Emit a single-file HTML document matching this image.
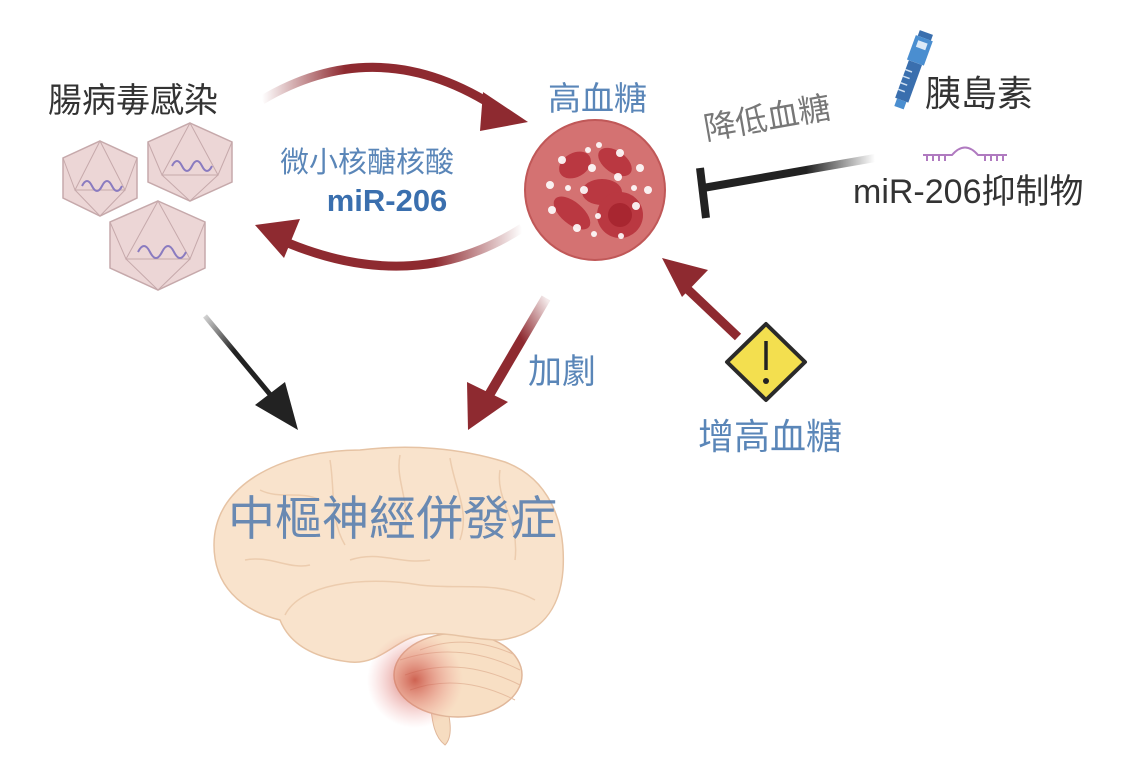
<!DOCTYPE html>
<html><head><meta charset="utf-8"><style>
html,body{margin:0;padding:0;background:#fff}
svg{display:block}
text{font-family:"Liberation Sans","Noto Sans CJK TC",sans-serif}
</style></head><body>
<svg width="1140" height="760" viewBox="0 0 1140 760" xmlns="http://www.w3.org/2000/svg">
<defs>
<linearGradient id="gt" x1="0" y1="0" x2="1" y2="0"><stop offset="0" stop-color="#8e2a30" stop-opacity="0"/><stop offset="0.35" stop-color="#8e2a30"/><stop offset="1" stop-color="#8e2a30"/></linearGradient>
<linearGradient id="gb" x1="1" y1="0" x2="0" y2="0"><stop offset="0" stop-color="#8e2a30" stop-opacity="0"/><stop offset="0.35" stop-color="#8e2a30"/><stop offset="1" stop-color="#8e2a30"/></linearGradient>
<linearGradient id="gblk" x1="0" y1="0" x2="1" y2="1"><stop offset="0" stop-color="#222" stop-opacity="0.2"/><stop offset="0.4" stop-color="#222"/></linearGradient>
<linearGradient id="gr1" x1="1" y1="0" x2="0" y2="1"><stop offset="0" stop-color="#8e2a30" stop-opacity="0.1"/><stop offset="0.4" stop-color="#8e2a30"/></linearGradient>
<linearGradient id="ginh" x1="1" y1="0" x2="0" y2="0"><stop offset="0" stop-color="#222" stop-opacity="0"/><stop offset="0.4" stop-color="#222"/></linearGradient>
<radialGradient id="glow" cx="0.5" cy="0.5" r="0.5"><stop offset="0" stop-color="#c0392b" stop-opacity="0.75"/><stop offset="1" stop-color="#e88" stop-opacity="0"/></radialGradient>
</defs>

<text x="48" y="112" font-size="34" fill="#333">腸病毒感染</text>
<g fill="#ecd6d6" stroke="#c6a9ab" stroke-width="1.5">
<polygon points="100,141 137,158 137,198 100,216 63,198 63,158"/>
<polygon points="190,123 232,142 232,182 190,201 148,182 148,142"/>
<polygon points="158,201 205,222 205,268 158,290 110,268 110,222"/>
</g>
<g fill="none" stroke="#c6a9ab" stroke-width="1">
<path d="M100,141 L75,190 L125,190 Z M63,158 L75,190 M137,158 L125,190 M75,190 L100,216 L125,190"/>
<path d="M190,123 L162,175 L218,175 Z M148,142 L162,175 M232,142 L218,175 M162,175 L190,201 L218,175"/>
<path d="M158,201 L126,259 L190,259 Z M110,222 L126,259 M205,222 L190,259 M126,259 L158,290 L190,259"/>
</g>
<g fill="none" stroke-width="2">
<path d="M82,186 q5,-10 10,0 t10,0 t10,0 t10,0" stroke="#8a7bc0"/>
<path d="M172,166 q5,-10 10,0 t10,0 t10,0 t10,0" stroke="#8a7bc0"/>
<path d="M138,252 q6,-12 12,0 t12,0 t12,0 t12,0" stroke="#8a7bc0"/>
</g>

<path d="M262,100 Q380,30 500,110" fill="none" stroke="url(#gt)" stroke-width="9"/>
<polygon points="483,92 528,122 480,131" fill="#8e2a30"/>
<path d="M522,228 Q410,300 272,236" fill="none" stroke="url(#gb)" stroke-width="9"/>
<polygon points="255,225 300,219 284,258" fill="#8e2a30"/>
<text x="367" y="172" font-size="29" fill="#5a86b8" text-anchor="middle">微小核醣核酸</text>
<text x="387" y="211" font-size="31" fill="#3a6fae" font-weight="bold" text-anchor="middle">miR-206</text>

<text x="548" y="110" font-size="33" fill="#5a86b8">高血糖</text>
<circle cx="595" cy="190" r="70" fill="#d47272" stroke="#c05858" stroke-width="2"/>
<g fill="#b8323c" opacity="0.9">
<ellipse cx="575" cy="165" rx="17" ry="12" transform="rotate(-30 575 165)"/>
<ellipse cx="615" cy="162" rx="19" ry="11" transform="rotate(35 615 162)"/>
<ellipse cx="602" cy="192" rx="20" ry="13"/>
<ellipse cx="572" cy="213" rx="22" ry="11" transform="rotate(40 572 213)"/>
<circle cx="620" cy="215" r="23"/>
</g>
<circle cx="620" cy="215" r="12" fill="#a82630"/>
<g fill="#fff" opacity="0.9">
<circle cx="562" cy="160" r="4"/><circle cx="588" cy="150" r="3"/><circle cx="599" cy="145" r="3"/><circle cx="620" cy="153" r="4"/><circle cx="640" cy="168" r="4"/><circle cx="592" cy="168" r="4"/><circle cx="618" cy="177" r="4"/><circle cx="550" cy="185" r="4"/><circle cx="568" cy="188" r="3"/><circle cx="584" cy="190" r="4"/><circle cx="634" cy="188" r="3"/><circle cx="648" cy="190" r="4"/><circle cx="552" cy="210" r="4"/><circle cx="598" cy="216" r="3"/><circle cx="636" cy="206" r="4"/><circle cx="577" cy="228" r="4"/><circle cx="594" cy="234" r="3"/><circle cx="621" cy="236" r="3"/>
</g>

<text x="706" y="140" font-size="32" fill="#777" transform="rotate(-10 706 140)">降低血糖</text>
<path d="M875,158 L703,188" fill="none" stroke="url(#ginh)" stroke-width="8"/>
<line x1="700" y1="168" x2="706" y2="218" stroke="#222" stroke-width="8"/>

<g transform="rotate(20 912 72)">
<rect x="905" y="30" width="14" height="6" fill="#3a6fae"/>
<rect x="903" y="36" width="18" height="26" fill="#4a8ed0"/>
<rect x="907" y="40" width="10" height="7" fill="#dceaf8"/>
<rect x="905" y="62" width="14" height="40" fill="#3a6fae"/>
<g stroke="#cfe0f2" stroke-width="1.5"><line x1="905" y1="72" x2="912" y2="72"/><line x1="905" y1="79" x2="912" y2="79"/><line x1="905" y1="86" x2="912" y2="86"/><line x1="905" y1="93" x2="912" y2="93"/></g>
<rect x="907" y="102" width="10" height="8" fill="#4a8ed0"/>
</g>
<text x="925" y="106" font-size="36" fill="#333">胰島素</text>
<g stroke="#b07ac0" stroke-width="2" fill="none">
<path d="M923,155 L952,155 Q965,140 978,155 L1007,155"/>
<path d="M927,155 v6 M933,155 v6 M939,155 v6 M945,155 v6 M985,155 v6 M991,155 v6 M997,155 v6 M1003,155 v6"/>
</g>
<text x="853" y="203" font-size="34" fill="#333">miR-206抑制物</text>

<path d="M205,316 L278,404" stroke="url(#gblk)" stroke-width="5" fill="none"/>
<polygon points="298,430 255,405 285,382" fill="#222"/>
<path d="M546,298 L485,402" stroke="url(#gr1)" stroke-width="10" fill="none"/>
<polygon points="468,430 467,382 508,402" fill="#8e2a30"/>
<text x="528" y="383" font-size="34" fill="#5a86b8">加劇</text>
<path d="M738,337 L680,282" stroke="#8e2a30" stroke-width="9"/>
<polygon points="662,258 708,270 682,297" fill="#8e2a30"/>

<polygon points="766,324 805,362 766,400 727,362" fill="#f3df4f" stroke="#2a2a2a" stroke-width="4" stroke-linejoin="round"/>
<line x1="766" y1="341" x2="766" y2="370" stroke="#222" stroke-width="3.5"/>
<circle cx="766" cy="381" r="3" fill="#222"/>
<text x="698" y="449" font-size="36" fill="#5a86b8">增高血糖</text>

<path d="M445,745 C455,735 448,712 446,700 L430,702 C432,715 432,735 445,745 Z" fill="#f6dcc0" stroke="#e0b79a"/>
<ellipse cx="458" cy="675" rx="64" ry="42" fill="#f8dfc4" stroke="#e0b79a" stroke-width="1.5"/>
<g stroke="#e6bda0" fill="none" stroke-width="1">
<path d="M400,660 Q460,640 520,670"/><path d="M405,675 Q460,655 520,685"/><path d="M410,690 Q460,672 515,700"/><path d="M420,650 Q465,632 515,655"/>
</g>
<path d="M214,545 C214,480 290,450 360,450 C410,444 460,448 505,462 C548,478 566,520 563,570 C560,610 540,635 500,640 C470,640 445,630 420,635 C395,640 380,665 350,662 C315,658 290,645 280,620 C240,610 214,585 214,545 Z" fill="#f9e3cc" stroke="#e6c3a4" stroke-width="1.5"/>
<g stroke="#ecccae" fill="none" stroke-width="1.5">
<path d="M285,615 C300,585 360,575 420,585 C460,590 500,580 535,600"/>
<path d="M260,490 C280,500 300,490 320,500 M330,460 C335,490 330,520 345,545 M400,455 C395,480 410,500 405,530 M450,458 C455,490 470,510 460,540 M500,470 C495,500 520,520 515,560 M245,560 C270,555 290,570 310,565 M350,560 C380,550 400,565 430,560"/>
</g>
<ellipse cx="415" cy="680" rx="48" ry="48" fill="url(#glow)"/>
<text x="228" y="535" font-size="47" fill="#5a80b0" opacity="0.9">中樞神經併發症</text>
</svg>
</body></html>
